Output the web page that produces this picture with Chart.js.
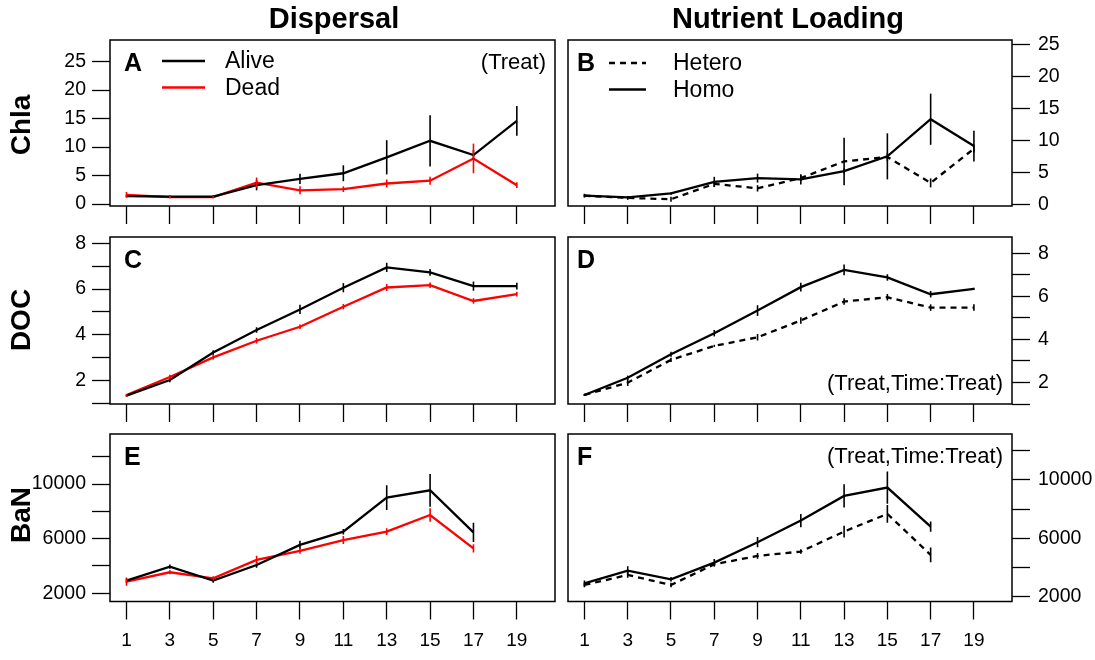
<!DOCTYPE html>
<html>
<head>
<meta charset="utf-8">
<script src="https://cdn.jsdelivr.net/npm/chart.js@4.4.1/dist/chart.umd.min.js"></script>
<style>
  body { margin: 0; background: #fff; font-family: "Liberation Sans", Arial, sans-serif; }
  #wrap { position: relative; width: 1095px; height: 660px; overflow: hidden; }
  #wrap canvas { position: absolute; left: 0; top: 0; }
  .title { position: absolute; top: 4px; font-weight: bold; font-size: 29px; line-height: 29px;
           transform: translateX(-50%); white-space: nowrap; }
  .rowlab { position: absolute; left: 21px; font-weight: bold; font-size: 28px; line-height: 28px;
            transform: translate(-50%, -50%) rotate(-90deg); white-space: nowrap; }
</style>
</head>
<body>
<div id="wrap">
  <canvas id="pA" width="1095" height="660"></canvas>
  <canvas id="pB" width="1095" height="660"></canvas>
  <canvas id="pC" width="1095" height="660"></canvas>
  <canvas id="pD" width="1095" height="660"></canvas>
  <canvas id="pE" width="1095" height="660"></canvas>
  <canvas id="pF" width="1095" height="660"></canvas>
  <div class="title" style="left:334px">Dispersal</div>
  <div class="title" style="left:788px">Nutrient Loading</div>
  <div class="rowlab" style="top:125px">Chla</div>
  <div class="rowlab" style="top:320px">DOC</div>
  <div class="rowlab" style="top:515px">BaN</div>
</div>
<script>
// sampling days
const days = [1, 3, 5, 7, 9, 11, 13, 15, 17, 19];

// Chla
const chlaAlive    = [1.4, 1.3, 1.3, 3.3, 4.4, 5.4, 8.2, 11.1, 8.6, 14.6];
const chlaAliveSe  = [0.2, 0.2, 0.2, 0.9, 0.9, 1.4, 3.0, 4.5, 0.9, 2.6];
const chlaDead     = [1.6, 1.2, 1.2, 3.75, 2.4, 2.6, 3.6, 4.1, 8.0, 3.3];
const chlaDeadSe   = [0.5, 0.2, 0.2, 0.9, 0.7, 0.5, 0.7, 0.7, 2.6, 0.5];
const chlaHetero   = [1.45, 1.1, 0.9, 3.3, 2.6, 4.2, 6.8, 7.5, 3.45, 8.8];
const chlaHeteroSe = [0.3, 0.3, 0.4, 0.5, 0.5, 0.5, 3.7, 0.6, 0.7, 0.6];
const chlaHomo     = [1.45, 1.2, 1.8, 3.6, 4.2, 4.0, 5.3, 7.6, 13.4, 9.2];
const chlaHomoSe   = [0.2, 0.2, 0.2, 0.8, 0.7, 0.8, 0.4, 3.6, 4.0, 2.4];

// DOC
const docAlive    = [1.34, 2.02, 3.22, 4.21, 5.11, 6.06, 6.95, 6.73, 6.13, 6.13];
const docAliveSe  = [0.05, 0.1, 0.1, 0.12, 0.2, 0.2, 0.2, 0.15, 0.2, 0.15];
const docDead     = [1.36, 2.15, 3.01, 3.74, 4.35, 5.23, 6.07, 6.17, 5.48, 5.78];
const docDeadSe   = [0.05, 0.1, 0.1, 0.12, 0.1, 0.12, 0.15, 0.12, 0.12, 0.1];
const docHetero   = [1.42, 1.99, 3.05, 3.7, 4.1, 4.88, 5.76, 5.96, 5.48, 5.48];
const docHeteroSe = [0.05, 0.15, 0.1, 0.05, 0.15, 0.15, 0.15, 0.15, 0.15, 0.15];
const docHomo     = [1.42, 2.22, 3.31, 4.29, 5.34, 6.43, 7.23, 6.88, 6.1, 6.35];
const docHomoSe   = [0.05, 0.1, 0.12, 0.15, 0.25, 0.2, 0.25, 0.15, 0.15, 0.05];

// BaN (no samples on day 19)
const banAlive    = [2930, 3950, 2930, 4070, 5540, 6510, 9000, 9540, 6460, null];
const banAliveSe  = [150, 150, 150, 200, 300, 200, 900, 1200, 700, 0];
const banDead     = [2850, 3540, 3100, 4440, 5100, 5900, 6510, 7730, 5290, null];
const banDeadSe   = [300, 150, 150, 300, 200, 300, 250, 500, 300, 0];
const banHetero   = [2800, 3490, 2800, 4220, 4790, 5090, 6460, 7670, 4860, null];
const banHeteroSe = [150, 200, 150, 150, 200, 150, 400, 600, 500, 0];
const banHomo     = [2910, 3780, 3190, 4330, 5730, 7210, 8900, 9470, 6800, null];
const banHomoSe   = [200, 300, 150, 250, 350, 450, 800, 1100, 350, 0];

// y tick positions and which of them get a label
const chlaTicks  = [0, 5, 10, 15, 20, 25];
const chlaLabels = [0, 5, 10, 15, 20, 25];
const docTicks   = [1, 2, 3, 4, 5, 6, 7, 8];
const docLabels  = [2, 4, 6, 8];
const banTicks   = [2000, 4000, 6000, 8000, 10000, 12000];
const banLabels  = [2000, 6000, 10000];

const FONT = '"Liberation Sans", Arial, sans-serif';
const W = 1095, H = 660;
const cols = { left: [110, 555], right: [568, 1012] };
const rows = [[40, 206], [237, 404], [434, 601.5]];

// box around the plot region
const frame = {
  id: 'frame',
  afterDraw(chart) {
    const { ctx, chartArea: a } = chart;
    ctx.save();
    ctx.strokeStyle = '#000';
    ctx.lineWidth = 1.5;
    ctx.strokeRect(a.left, a.top, a.width, a.height);
    ctx.restore();
  }
};

// vertical +/- se bars at every point
const errorBars = {
  id: 'errorBars',
  afterDatasetsDraw(chart) {
    const { ctx, chartArea: a, scales: { x, y } } = chart;
    ctx.save();
    ctx.beginPath();
    ctx.rect(a.left, a.top, a.width, a.height);
    ctx.clip();
    chart.data.datasets.forEach(ds => {
      if (!ds.se) return;
      ctx.strokeStyle = ds.borderColor;
      ctx.lineWidth = 1.6;
      ctx.setLineDash([]);
      ds.data.forEach((p, i) => {
        if (p.y == null) return;
        const px = x.getPixelForValue(p.x);
        ctx.beginPath();
        ctx.moveTo(px, y.getPixelForValue(p.y - ds.se[i]));
        ctx.lineTo(px, y.getPixelForValue(p.y + ds.se[i]));
        ctx.stroke();
      });
    });
    ctx.restore();
  }
};

// panel letter, model note and the small in-panel legend
const panelTag = {
  id: 'panelTag',
  afterDraw(chart, args, opts) {
    const { ctx, chartArea: a } = chart;
    ctx.save();
    ctx.fillStyle = '#000';
    ctx.font = 'bold 25px ' + FONT;
    ctx.textAlign = 'left';
    ctx.textBaseline = 'alphabetic';
    ctx.fillText(opts.letter, a.left + opts.dx, a.top + 31);

    if (opts.note) {
      ctx.font = '22px ' + FONT;
      ctx.textAlign = 'right';
      ctx.textBaseline = 'middle';
      ctx.fillText(opts.note, a.right - 9, opts.noteTop ? a.top + 23 : a.bottom - 20);
    }

    const lg = opts.legend;
    if (lg) {
      ctx.font = '23px ' + FONT;
      ctx.textAlign = 'left';
      ctx.textBaseline = 'middle';
      chart.data.datasets.forEach((ds, i) => {
        const ly = a.top + lg.y + i * 26.5;
        ctx.strokeStyle = ds.borderColor;
        ctx.lineWidth = 2.3;
        ctx.setLineDash(ds.borderDash || []);
        ctx.beginPath();
        ctx.moveTo(a.left + lg.x0, ly);
        ctx.lineTo(a.left + lg.x1, ly);
        ctx.stroke();
        ctx.fillText(ds.label, a.left + lg.tx, ly + 1);
      });
    }
    ctx.restore();
  }
};

function series(label, vals, se, color, dash) {
  return {
    label: label,
    data: days.map((d, i) => ({ x: d, y: vals[i] })),
    se: se,
    borderColor: color,
    borderDash: dash || [],
    borderWidth: 2.3,
    pointRadius: 0,
    tension: 0,
    fill: false
  };
}

function panel(id, colKey, row, yAxis, datasets, tag) {
  const [x0, x1] = cols[colKey];
  const [y0, y1] = rows[row];
  const axisW = 100, axisH = 50;
  const onRight = colKey === 'right';
  const tickGrid = { drawOnChartArea: false, drawTicks: true, tickLength: 18, tickColor: '#000', tickWidth: 1.3 };

  return new Chart(document.getElementById(id), {
    type: 'line',
    data: { datasets: datasets },
    options: {
      responsive: false,
      animation: false,
      layout: {
        padding: {
          left: onRight ? x0 : x0 - axisW,
          right: onRight ? W - x1 - axisW : W - x1,
          top: y0,
          bottom: H - y1 - axisH
        }
      },
      scales: {
        x: {
          type: 'linear',
          min: 0.24,
          max: 20.76,
          afterBuildTicks: s => { s.ticks = days.map(v => ({ value: v })); },
          afterFit: s => { s.height = axisH; },
          grid: tickGrid,
          border: { display: false },
          ticks: {
            display: row === 2,
            autoSkip: false,
            maxRotation: 0,
            padding: 10,
            color: '#000',
            font: { family: FONT, size: 19 }
          }
        },
        y: {
          position: onRight ? 'right' : 'left',
          min: yAxis.min,
          max: yAxis.max,
          afterBuildTicks: s => { s.ticks = yAxis.ticks.map(v => ({ value: v })); },
          afterFit: s => { s.width = axisW; },
          grid: tickGrid,
          border: { display: false },
          ticks: {
            autoSkip: false,
            padding: onRight ? 8 : 6,
            color: '#000',
            font: { family: FONT, size: 19.5 },
            callback: v => yAxis.labels.includes(v) ? String(v) : ''
          }
        }
      },
      plugins: {
        legend: { display: false },
        tooltip: { enabled: false },
        panelTag: tag
      }
    },
    plugins: [errorBars, frame, panelTag]
  });
}

const RED = 'rgb(255,0,0)';
const DASH = [6, 5];

panel('pA', 'left', 0, { min: -0.35, max: 28.8, ticks: chlaTicks, labels: chlaLabels }, [
  series('Alive', chlaAlive, chlaAliveSe, '#000'),
  series('Dead', chlaDead, chlaDeadSe, RED)
], { letter: 'A', dx: 14, note: '(Treat)', noteTop: true, legend: { y: 21, x0: 52, x1: 95, tx: 115 } });

panel('pB', 'right', 0, { min: -0.16, max: 25.78, ticks: chlaTicks, labels: chlaLabels }, [
  series('Hetero', chlaHetero, chlaHeteroSe, '#000', DASH),
  series('Homo', chlaHomo, chlaHomoSe, '#000')
], { letter: 'B', dx: 9, legend: { y: 23, x0: 41, x1: 78, tx: 105 } });

panel('pC', 'left', 1, { min: 0.97, max: 8.28, ticks: docTicks, labels: docLabels }, [
  series('Alive', docAlive, docAliveSe, '#000'),
  series('Dead', docDead, docDeadSe, RED)
], { letter: 'C', dx: 14 });

panel('pD', 'right', 1, { min: 1.0, max: 8.76, ticks: docTicks, labels: docLabels }, [
  series('Hetero', docHetero, docHeteroSe, '#000', DASH),
  series('Homo', docHomo, docHomoSe, '#000')
], { letter: 'D', dx: 9, note: '(Treat,Time:Treat)', noteTop: false });

panel('pE', 'left', 2, { min: 1400, max: 13660, ticks: banTicks, labels: banLabels }, [
  series('Alive', banAlive, banAliveSe, '#000'),
  series('Dead', banDead, banDeadSe, RED)
], { letter: 'E', dx: 14 });

panel('pF', 'right', 2, { min: 1670, max: 13140, ticks: banTicks, labels: banLabels }, [
  series('Hetero', banHetero, banHeteroSe, '#000', DASH),
  series('Homo', banHomo, banHomoSe, '#000')
], { letter: 'F', dx: 9, note: '(Treat,Time:Treat)', noteTop: true });
</script>
</body>
</html>
